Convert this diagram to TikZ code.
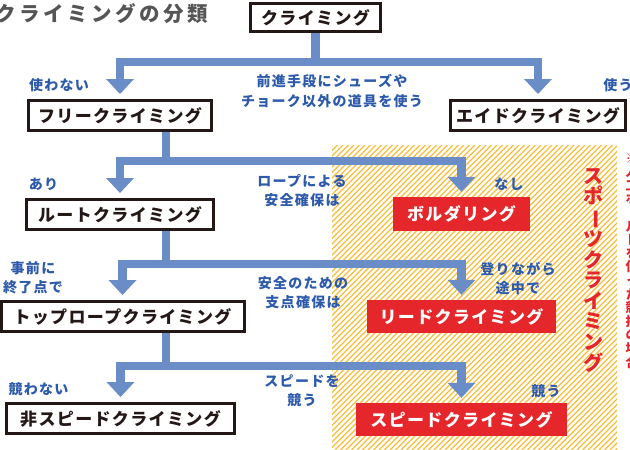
\documentclass[tikz,border=0pt]{standalone}
\usepackage{fontspec}
\usepackage{graphicx}
\usetikzlibrary{arrows.meta}
\newfontfamily\jpplain{Noto Sans CJK JP}
\newfontfamily\jpbox{Noto Sans CJK JP}[LetterSpace=8]
\newfontfamily\jplbl{Noto Sans CJK JP}[LetterSpace=9]
\newfontfamily\jptitle{Noto Sans CJK JP}[LetterSpace=17]
\definecolor{arrowblue}{HTML}{6B8DC7}
\definecolor{lblblue}{HTML}{2D5AAA}
\definecolor{myred}{HTML}{E5262A}
\definecolor{hatchy}{HTML}{F7BE3C}
\definecolor{boxblack}{HTML}{231815}
\definecolor{titlegray}{HTML}{555555}
\newcommand\vbar{\rotatebox[origin=c]{-90}{ー}}
\pgfdeclarelayer{bglayer}
\pgfdeclarelayer{midlayer}
\pgfsetlayers{bglayer,midlayer,main}
\begin{document}
\begin{tikzpicture}[x=1pt,y=-1pt,
  box/.style={draw=boxblack, line width=3pt, fill=white, inner sep=0pt, text=boxblack, font=\jpbox\bfseries\fontsize{17}{20}\selectfont},
  redbox/.style={fill=myred, inner sep=0pt, text=white, font=\jpbox\bfseries\fontsize{17}{20}\selectfont},
  lbl/.style={inner sep=0pt, text=lblblue, align=center, font=\jplbl\bfseries\fontsize{14}{19.5}\selectfont},
  flowstem/.style={draw=arrowblue, line width=8.5pt},
  flow/.style={draw=arrowblue, line width=8.5pt, line join=miter, -{Triangle[width=28pt,length=15pt,line width=0pt]}, shorten >=5pt},
  hatchline/.style={draw=hatchy, line width=1.4pt},
  vert/.style={inner sep=0pt, align=center, text=myred}
]
\useasboundingbox (0,0) rectangle (630,450);
\begin{pgfonlayer}{bglayer}
\fill[white] (0,0) rectangle (630,450);
\begin{scope}
\clip (332,145) rectangle (617,450);
\foreach \k in {0,...,108} {\draw[hatchline] ({27+\k*5.5},450) -- ++(305,-305);}
\end{scope}
\end{pgfonlayer}

\node[inner sep=0pt, anchor=west, text=titlegray, font=\jptitle\bfseries\fontsize{20.5}{24}\selectfont] (title) at (-5,13.5) {クライミングの分類};

\node[box, minimum width=130pt, minimum height=28pt] (climb) at (315.5,17.5) {クライミング};
\node[box, minimum width=183pt, minimum height=30pt] (free) at (120,115.5) {フリークライミング};
\node[box, minimum width=175pt, minimum height=30pt] (aid) at (538,115.5) {エイドクライミング};
\node[box, minimum width=187pt, minimum height=30pt] (route) at (120,214.5) {ルートクライミング};
\node[redbox, minimum width=137pt, minimum height=34pt] (boulder) at (461.5,214) {ボルダリング};
\node[box, minimum width=243pt, minimum height=30pt] (toprope) at (122.5,316.5) {トップロープクライミング};
\node[redbox, minimum width=189pt, minimum height=33pt] (lead) at (461.5,316.5) {リードクライミング};
\node[box, minimum width=228pt, minimum height=30pt] (nonspeed) at (120.5,418.5) {非スピードクライミング};
\node[redbox, minimum width=211pt, minimum height=33pt] (speed) at (461.5,419.5) {スピードクライミング};

\coordinate (j1) at (315.5,62);
\coordinate (j2) at (166,161);
\coordinate (j3) at (166,264);
\coordinate (j4) at (166,366);

\begin{pgfonlayer}{midlayer}
\draw[flowstem] (climb.south) -- (j1);
\draw[flow] (j1) -| (free);
\draw[flow] (j1) -| (aid);
\draw[flowstem] (free.south -| j2) -- (j2);
\draw[flow] (j2) -| (route);
\draw[flow] (j2) -| (boulder);
\draw[flowstem] (route.south -| j3) -- (j3);
\draw[flow] (j3) -| (toprope);
\draw[flow] (j3) -| (lead);
\draw[flowstem] (toprope.south -| j4) -- (j4);
\draw[flow] (j4) -| (nonspeed);
\draw[flow] (j4) -| (speed);
\end{pgfonlayer}

\node[lbl] (l1) at (59,85) {使わない};
\node[lbl] (l2) at (332,91) {前進手段にシューズや\\チョーク以外の道具を使う};
\node[lbl] (l3) at (618,85) {使う};
\node[lbl] (l4) at (43.5,184) {あり};
\node[lbl] (l5) at (302,190.5) {ロープによる\\安全確保は};
\node[lbl] (l6) at (509,184) {なし};
\node[lbl] (l7) at (33,277.5) {事前に\\終了点で};
\node[lbl] (l8) at (303,292.5) {安全のための\\支点確保は};
\node[lbl] (l9) at (518,278.5) {登りながら\\途中で};
\node[lbl] (l10) at (38.5,389) {競わない};
\node[lbl] (l11) at (302,391) {スピードを\\競う};
\node[lbl] (l12) at (546,391) {競う};

\node[vert, font=\jpplain\bfseries\fontsize{20}{20.6}\selectfont] (sports) at (593,270) {ス\\ポ\\\vbar\\ツ\\ク\\ラ\\イ\\ミ\\ン\\グ};
\node[vert, font=\jpplain\bfseries\fontsize{13}{13.6}\selectfont] (note) at (632,261) {※\\人\\工\\ホ\\\vbar\\ル\\ド\\を\\使\\っ\\た\\競\\技\\の\\場\\合};
\end{tikzpicture}
\end{document}
